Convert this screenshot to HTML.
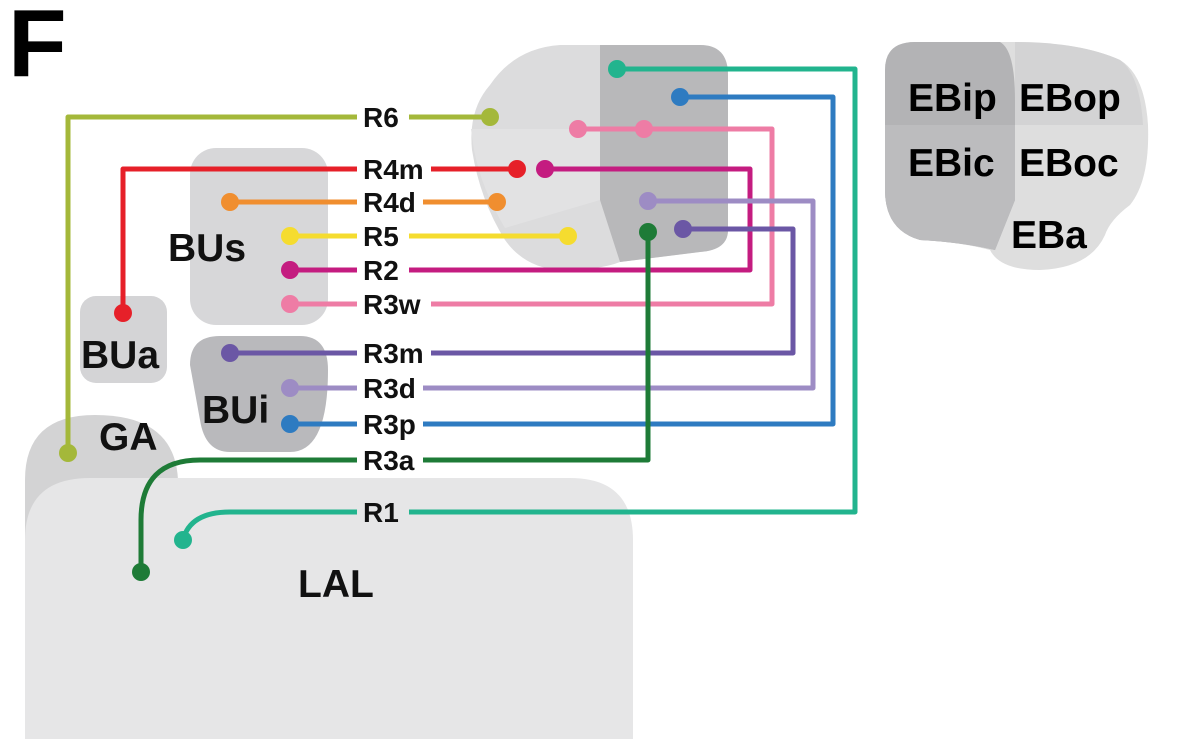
<!DOCTYPE html>
<html><head><meta charset="utf-8"><style>html,body{margin:0;padding:0;background:#fff}svg{display:block}</style></head>
<body>
<svg width="1200" height="739" viewBox="0 0 1200 739" xmlns="http://www.w3.org/2000/svg" font-family="Liberation Sans, sans-serif" font-weight="bold">
<rect width="1200" height="739" fill="#fff"/>
<text x="8" y="76" font-size="96" fill="#000">F</text>
<!-- GA -->
<path d="M25 739 V480 Q25 415 95 415 Q175 415 178 480 V739 Z" fill="#d3d3d4"/>
<!-- LAL -->
<path d="M25 739 V540 Q25 478 90 478 H570 Q633 478 633 540 V739 Z" fill="#e6e6e7"/>
<!-- BUa -->
<rect x="80" y="296" width="87" height="87" rx="16" fill="#d4d4d6"/>
<!-- BUs -->
<rect x="190" y="148" width="138" height="177" rx="26" fill="#d7d7d9"/>
<!-- BUi -->
<path d="M190 365 Q190 336 220 336 H300 Q328 336 328 370 Q328 452 290 452 H230 Q205 452 200 420 Z" fill="#b9b9bc"/>
<!-- FB -->
<path d="M560 45 H700 Q728 45 728 75 V230 Q728 250 700 252 L620 262 Q600 270 560 270 Q525 268 505 240 Q480 200 472 150 Q468 110 490 85 Q515 48 560 45 Z" fill="#dcdcdd"/>
<path d="M471 129 H600 V200 L505 228 Q482 190 474 150 Z" fill="#e2e2e3"/>
<path d="M600 45 H700 Q728 45 728 75 V230 Q728 250 700 252 L620 262 L600 200 Z" fill="#b8b8ba"/>
<!-- EB -->
<path d="M915 42 H1010 Q1080 42 1120 60 Q1145 75 1148 125 Q1150 180 1130 205 Q1110 220 1105 235 Q1090 268 1040 270 Q1000 270 990 250 Q960 242 920 240 Q885 230 885 190 V70 Q885 42 915 42 Z" fill="#dedede"/>
<path d="M1015 42 Q1080 42 1120 60 Q1140 75 1143 125 H1015 Z" fill="#d3d3d4"/>
<path d="M915 42 H1000 Q1015 50 1015 100 V200 L995 250 Q960 242 920 240 Q885 230 885 190 V70 Q885 42 915 42 Z" fill="#b3b3b5"/>
<path d="M885 125 H1015 V200 L995 250 Q960 242 920 240 Q885 230 885 190 Z" fill="#bcbcbe"/>
<g font-size="39" fill="#000">
<text x="908" y="111">EBip</text><text x="1019" y="111">EBop</text>
<text x="908" y="176">EBic</text><text x="1019" y="176">EBoc</text>
<text x="1011" y="248">EBa</text>
</g>
<g font-size="39" fill="#111">
<text x="168" y="261">BUs</text><text x="81" y="368">BUa</text><text x="202" y="423">BUi</text>
<text x="99" y="450">GA</text><text x="298" y="597">LAL</text>
</g>
<g fill="none" stroke-width="5" stroke-linejoin="round">
<path d="M68 453 V117 H490" stroke="#a4b83a"/>
<path d="M123 313 V169 H517" stroke="#e62029"/>
<path d="M290 270 H750 V169 H545" stroke="#c41c80"/>
<path d="M230 202 H497" stroke="#f08e2f"/>
<path d="M290 236 H568" stroke="#f5dc2f"/>
<path d="M290 304 H772 V129 H578" stroke="#ee7ca5"/>
<path d="M230 353 H793 V229 H683" stroke="#6b57a5"/>
<path d="M290 388 H813 V201 H648" stroke="#9d8cc4"/>
<path d="M290 424 H833 V97 H680" stroke="#2e7bc1"/>
<path d="M141 572 V520 Q141 460 200 460 H648 V232" stroke="#1e7b37"/>
<path d="M183 540 Q190 512 230 512 H855 V69 H617" stroke="#22b48e"/>
</g>
<g>
<circle cx="68" cy="453" r="9" fill="#a4b83a"/><circle cx="490" cy="117" r="9" fill="#a4b83a"/>
<circle cx="123" cy="313" r="9" fill="#e62029"/><circle cx="517" cy="169" r="9" fill="#e62029"/>
<circle cx="290" cy="270" r="9" fill="#c41c80"/><circle cx="545" cy="169" r="9" fill="#c41c80"/>
<circle cx="230" cy="202" r="9" fill="#f08e2f"/><circle cx="497" cy="202" r="9" fill="#f08e2f"/>
<circle cx="290" cy="236" r="9" fill="#f5dc2f"/><circle cx="568" cy="236" r="9" fill="#f5dc2f"/>
<circle cx="290" cy="304" r="9" fill="#ee7ca5"/><circle cx="578" cy="129" r="9" fill="#ee7ca5"/><circle cx="644" cy="129" r="9" fill="#ee7ca5"/>
<circle cx="230" cy="353" r="9" fill="#6b57a5"/><circle cx="683" cy="229" r="9" fill="#6b57a5"/>
<circle cx="290" cy="388" r="9" fill="#9d8cc4"/><circle cx="648" cy="201" r="9" fill="#9d8cc4"/>
<circle cx="290" cy="424" r="9" fill="#2e7bc1"/><circle cx="680" cy="97" r="9" fill="#2e7bc1"/>
<circle cx="141" cy="572" r="9" fill="#1e7b37"/><circle cx="648" cy="232" r="9" fill="#1e7b37"/>
<circle cx="183" cy="540" r="9" fill="#22b48e"/><circle cx="617" cy="69" r="9" fill="#22b48e"/>
</g>
<g font-size="28" fill="#111">
<rect x="357" y="102" width="52" height="30" fill="#fff"/><text x="363" y="127">R6</text>
<rect x="357" y="154" width="74" height="30" fill="#fff"/><text x="363" y="179">R4m</text>
<rect x="357" y="187" width="66" height="30" fill="#fff"/><text x="363" y="212">R4d</text>
<rect x="357" y="221" width="52" height="30" fill="#fff"/><text x="363" y="246">R5</text>
<rect x="357" y="255" width="52" height="30" fill="#fff"/><text x="363" y="280">R2</text>
<rect x="357" y="289" width="74" height="30" fill="#fff"/><text x="363" y="314">R3w</text>
<rect x="357" y="338" width="74" height="30" fill="#fff"/><text x="363" y="363">R3m</text>
<rect x="357" y="373" width="66" height="30" fill="#fff"/><text x="363" y="398">R3d</text>
<rect x="357" y="409" width="66" height="30" fill="#fff"/><text x="363" y="434">R3p</text>
<rect x="357" y="445" width="66" height="30" fill="#fff"/><text x="363" y="470">R3a</text>
<rect x="357" y="497" width="52" height="30" fill="#e6e6e7"/><text x="363" y="522">R1</text>
</g>
</svg>
</body></html>
